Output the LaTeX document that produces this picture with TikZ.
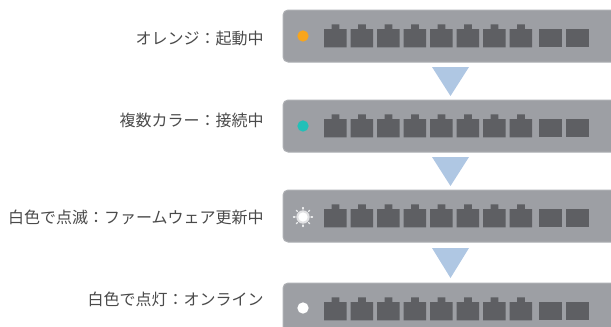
\documentclass[tikz,border=0pt]{standalone}
\usepackage{fontspec}
\setmainfont{Noto Sans CJK JP}
\definecolor{bargray}{HTML}{9D9FA4}
\definecolor{barrim}{HTML}{AEB0B4}
\definecolor{portgray}{HTML}{5E5F63}
\definecolor{flowblue}{HTML}{AFC7E3}
\definecolor{ledorange}{HTML}{F8A51C}
\definecolor{ledteal}{HTML}{22C0B8}
\definecolor{labelgray}{HTML}{4A4A4A}
\begin{document}
\begin{tikzpicture}[x=0.75pt,y=-0.75pt,
    status/.style ={anchor=east, inner sep=0pt, text=labelgray, font=\fontsize{12}{14}\selectfont},
    switchbar/.style ={rectangle, rounded corners=3.75pt, fill=bargray, draw=barrim, line width=0.75pt,
                       minimum width=256.5pt, minimum height=39pt, inner sep=0pt},
    port/.style ={fill=portgray},
    led/.style ={circle, inner sep=0pt, minimum size=8.5pt},
    flow/.style ={fill=flowblue}]
   \clip (0,0) rectangle (611,326);

   % switch panels with their ports
   \foreach \b/\y in {1/36,2/126,3/216,4/309}{
     \node[switchbar] (bar\b) at (454,\y) {};
     \foreach \p in {0,...,7}
       \fill[port] (324+26.5*\p,\y-7) rectangle ++(22.7,18.3)
                   (331.7+26.5*\p,\y-11.7) rectangle ++(7.6,5);
     \foreach \p in {539,566}
       \fill[port] (\p,\y-7) rectangle ++(23,18.3);
   }

   % status lamps
   \node[led, fill=ledorange] (led1) at (303,36)  {};
   \node[led, fill=ledteal]   (led2) at (303,126) {};
   \node[led, fill=white!70!bargray, minimum size=10pt] (glow3) at (303,217) {};
   \node[led, fill=white, minimum size=7pt] (led3) at (303,217) {};
   \node[led, fill=white]     (led4) at (303,308) {};
   \foreach \a in {0,45,...,315}
     \draw[white!80!bargray, line width=1pt, line cap=round] (led3.center) ++(\a:8) -- ++(\a:1.5);

   % arrows between the stages
   \fill[flow] (432,67)  -- (469,67)  -- (450.5,96)  -- cycle;
   \fill[flow] (432,157) -- (469,157) -- (450.5,186) -- cycle;
   \fill[flow] (432,248) -- (469,248) -- (450.5,278) -- cycle;

   \node[status] (L1) at (264,38)  {オレンジ：起動中};
   \node[status] (L2) at (264,120) {複数カラー：接続中};
   \node[status] (L3) at (264,217) {白色で点滅：ファームウェア更新中};
   \node[status] (L4) at (264,299) {白色で点灯：オンライン};
 \end{tikzpicture}
\end{document}
